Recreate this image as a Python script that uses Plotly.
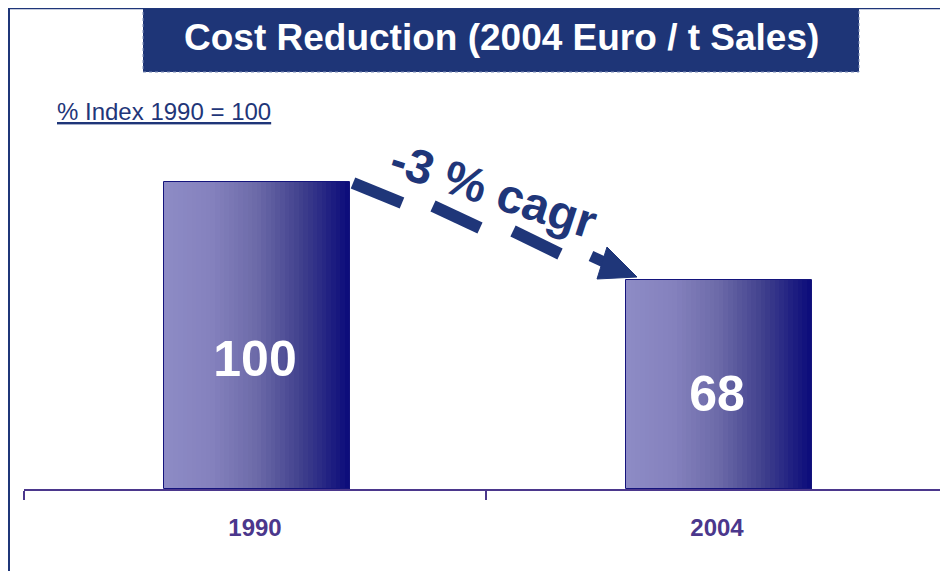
import plotly.graph_objects as go

# ---- data ----
years = ["1990", "2004"]
index_values = [100, 68]
cagr_label = "-3 % cagr"
title_text = "Cost Reduction (2004 Euro / t Sales)"
subtitle_text = "% Index 1990 = 100"

# ---- layout geometry (pixels); page has an 8px body margin ----
OFF = 8
W, H = 940, 563
ML, MR, MT, MB = 16, 0, 92, 82
PW, PH = W - ML - MR, H - MT - MB
YMAX = 126.7

def px(x):  # reference-window x -> paper
    return (x - OFF - ML) / PW

def py(y):  # reference-window y -> paper
    return (H - MB - (y - OFF)) / PH

NAVY = "#1f3679"
PURPLE = "#4b378c"
FONT = "Arial, Liberation Sans, sans-serif"

stops = [(0.0, (141, 139, 197)), (0.25, (133, 130, 190)), (0.5, (108, 106, 168)),
         (0.75, (62, 62, 140)), (1.0, (10, 10, 122))]

def grad(t):
    for (t0, c0), (t1, c1) in zip(stops[:-1], stops[1:]):
        if t0 <= t <= t1:
            f = (t - t0) / (t1 - t0)
            return "rgb(%d,%d,%d)" % tuple(round(a + (b - a) * f) for a, b in zip(c0, c1))
    return "rgb(10,10,122)"

BW = 0.402
BOFF = 0.004
N = 40
fig = go.Figure()
for i in range(N):
    fig.add_trace(go.Bar(
        x=years, y=index_values, width=BW / N * 1.15, offset=-BW / 2 + BOFF + i * BW / N,
        marker=dict(color=grad((i + 0.5) / N), line=dict(width=0)),
        hoverinfo="skip", showlegend=False))
fig.add_trace(go.Bar(
    x=years, y=index_values, width=BW, offset=-BW / 2 + BOFF,
    marker=dict(color="rgba(0,0,0,0)", line=dict(color="#14147c", width=1)),
    hoverinfo="skip", showlegend=False))
# value labels inside bars
fig.add_trace(go.Scatter(
    x=years, y=[0.36 * v + 5 for v in index_values], mode="text",
    text=["<b>%d</b>" % v for v in index_values],
    textfont=dict(family=FONT, size=50, color="white"),
    hoverinfo="skip", showlegend=False))

annotations = []
annotations.append(dict(x=px(501), y=py(38), xref="paper", yref="paper", text="<b>%s</b>" % title_text,
                        showarrow=False, font=dict(family=FONT, size=37, color="white"),
                        xanchor="center", yanchor="middle"))
annotations.append(dict(x=px(55), y=py(112), xref="paper", yref="paper", text="<u>%s</u>" % subtitle_text,
                        showarrow=False, font=dict(family=FONT, size=24, color=NAVY),
                        xanchor="left", yanchor="middle"))
annotations.append(dict(x=px(493), y=py(190), xref="paper", yref="paper", text="<b>%s</b>" % cagr_label,
                        showarrow=False, textangle=18, font=dict(family=FONT, size=48, color=NAVY),
                        xanchor="center", yanchor="middle"))

shapes = []
shapes.append(dict(type="line", xref="paper", yref="paper", x0=px(9), x1=px(9), y0=py(7), y1=py(580),
                   line=dict(color=NAVY, width=2)))
shapes.append(dict(type="line", xref="paper", yref="paper", x0=px(8), x1=px(960), y0=py(8), y1=py(8),
                   line=dict(color=NAVY, width=2.5)))
shapes.append(dict(type="rect", xref="paper", yref="paper", x0=px(143), x1=px(859), y0=py(72), y1=py(-4),
                   fillcolor="#1e3577", line=dict(color="#7f8fb8", width=1, dash="dot"), layer="below"))
for (x0, y0, x1, y1) in [(353, 183, 402, 203), (433, 206, 480, 228), (513, 231, 560, 254)]:
    shapes.append(dict(type="line", xref="paper", yref="paper", x0=px(x0), y0=py(y0), x1=px(x1), y1=py(y1),
                       line=dict(color=NAVY, width=12)))
shapes.append(dict(type="line", xref="paper", yref="paper", x0=px(591), y0=py(256), x1=px(604), y1=py(262),
                   line=dict(color=NAVY, width=11)))
head = [(607, 247), (597, 279), (637, 277)]
path = "M %f,%f L %f,%f L %f,%f Z" % tuple(v for p in head for v in (px(p[0]), py(p[1])))
shapes.append(dict(type="path", xref="paper", yref="paper", path=path, fillcolor=NAVY,
                   line=dict(color=NAVY, width=1)))

fig.update_layout(
    width=W, height=H, margin=dict(l=ML, r=MR, t=MT, b=MB),
    paper_bgcolor="white", plot_bgcolor="white", barmode="overlay", bargap=0,
    showlegend=False, annotations=annotations, shapes=shapes,
    xaxis=dict(type="category", categoryorder="array", categoryarray=years,
               showline=True, linecolor=PURPLE, linewidth=2, ticks="outside", tickson="boundaries",
               ticklen=9, tickwidth=1.5, tickcolor=PURPLE, showgrid=False, zeroline=False,
               tickfont=dict(family=FONT, size=24, color=PURPLE), ticklabelstandoff=16,
               tickprefix="<b>", ticksuffix="</b>", range=[-0.5, 1.5], fixedrange=True),
    yaxis=dict(range=[0, YMAX], visible=False, fixedrange=True),
)

fig.write_html("out.html")
